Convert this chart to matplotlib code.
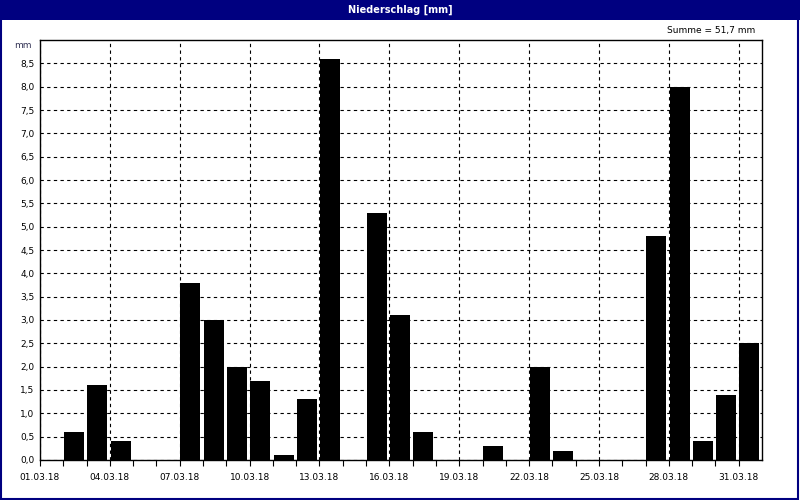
import numpy as np
import matplotlib.pyplot as plt
from matplotlib.patches import Rectangle

# Tagesniederschlag Maerz 2018 (mm), Index 0 = 01.03.
days = list(range(31))
rain = [0.0, 0.6, 1.6, 0.4, 0.0, 0.0, 3.8, 3.0, 2.0, 1.7,
        0.1, 1.3, 8.6, 0.0, 5.3, 3.1, 0.6, 0.0, 0.0, 0.3,
        0.0, 2.0, 0.2, 0.0, 0.0, 0.0, 4.8, 8.0, 0.4, 1.4,
        2.5]
tick_days = list(range(0, 31, 3))
tick_labels = ["%02d.03.18" % (d + 1) for d in tick_days]
y_ticks = np.arange(0, 9.0, 0.5)

fig = plt.figure(figsize=(8, 5), dpi=100)
fig.patch.set_facecolor("white")

# Titelleiste und Rahmen
fig.add_artist(Rectangle((0, 0.96), 1, 0.04, transform=fig.transFigure,
                         facecolor="#000080", edgecolor="none"))
fig.add_artist(Rectangle((0.001, 0.002), 0.997, 0.996, transform=fig.transFigure,
                         facecolor="none", edgecolor="#000080", linewidth=1.5))
fig.text(0.5, 0.98, "Niederschlag [mm]", color="white", ha="center", va="center",
         fontsize=7, fontweight="bold")
fig.text(0.944, 0.939, "Summe = 51,7 mm", ha="right", va="center", fontsize=6.5)

ax = fig.add_axes([0.05, 0.08, 0.9025, 0.84])
ax.bar(np.array(days) + 0.03, rain, width=0.86, align="edge", color="black", zorder=2)

ax.set_xlim(0, 31)
ax.set_ylim(0, 9)
ax.set_xticks(tick_days)
ax.set_xticklabels(tick_labels, fontsize=6.5)
ax.set_xticks(days, minor=True)
ax.set_yticks(y_ticks)
ax.set_yticklabels([("%.1f" % v).replace(".", ",") for v in y_ticks], fontsize=6.5)
ax.tick_params(axis="x", which="both", direction="out", length=4, width=0.8, pad=5)
ax.tick_params(axis="y", length=0, pad=4)
ax.set_axisbelow(False)
ax.grid(True, which="major", color="black", linestyle=(0, (3, 3)), linewidth=0.8, zorder=1)
for s in ax.spines.values():
    s.set_linewidth(1)
ax.text(-0.012, 8.88, "mm", transform=ax.get_yaxis_transform(), ha="right", va="center",
        fontsize=6.5, color="#333355")

fig.savefig("out.png", dpi=100)
